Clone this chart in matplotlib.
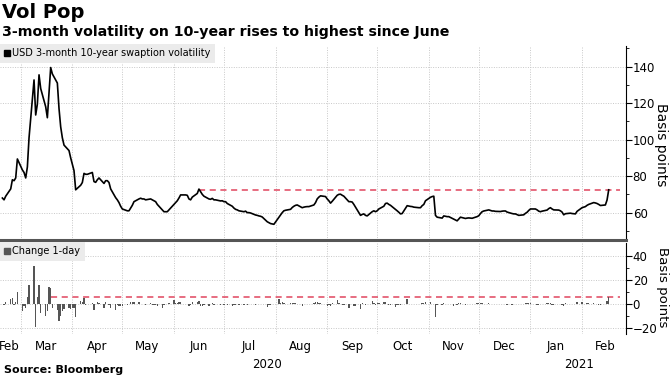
import numpy as np
import pandas as pd
import matplotlib
matplotlib.use("Agg")
import matplotlib.pyplot as plt
import matplotlib.dates as mdates
from matplotlib.patches import Patch

# ---- data (business days) ----
dates = pd.bdate_range("2020-02-19", "2021-02-17")

vol = [
    68, 67, 69,                          # Feb 19
    73, 78, 77.5, 79, 89.4,              # Feb 24
    83.4, 82, 79, 85, 101,               # Mar 2
    132.7, 113.5, 119.5, 135.5, 128,     # Mar 9
    118, 112, 126, 139.5, 136,           # Mar 16
    131, 117, 107, 101, 97,              # Mar 23
    94, 90, 86.5, 83, 72.5,              # Mar 30
    75, 76.5, 81.5, 81, 81,              # Apr 6
    82, 77, 76.6, 78, 79,                # Apr 13
    76, 77.5, 77.5, 76.5, 73,            # Apr 20
    68.2, 67, 65.5, 63.5, 62,            # Apr 27
    61, 61, 62.5, 64, 66,                # May 4
    67.5, 67.9, 67.5, 67.5, 67,          # May 11
    67.5, 67, 66.5, 66, 64.5,            # May 18
    61.5, 60.5, 60.5, 60.5, 61.5,        # May 25
    64.5, 65.5, 66.5, 68, 69.7,          # Jun 1
    69.7, 69.5, 67.5, 67, 68.5,          # Jun 8
    70.5, 72.9, 71.5, 70, 69,            # Jun 15
    67.5, 67.3, 67.8, 67, 67,            # Jun 22
    66.4, 66.5, 66, 66, 65,              # Jun 29
    63.5, 62.5, 61.8, 61.5, 61,          # Jul 6
    60.5, 60.8, 60, 60, 59.8,            # Jul 13
    58.7, 58.5, 58.2, 58, 57.6,          # Jul 20
    55, 54.5, 54, 53.8, 53.6,            # Jul 27
    57.5, 58.7, 60, 61, 61.3,            # Aug 3
    61.8, 62.8, 63.5, 64, 64.2,          # Aug 10
    62.7, 63, 63.2, 63.3, 63.3,          # Aug 17
    64.2, 65.5, 67.5, 68.5, 69.2,        # Aug 24
    68.8, 67.5, 66.5, 65.2, 66.2,        # Aug 31
    69.5, 70, 70.1, 69.5, 69,            # Sep 7
    66, 66, 65.8, 64.5, 63,              # Sep 14
    58.5, 59, 59.3, 58.5, 58.2,          # Sep 21
    60.5, 61, 60.5, 61, 62,              # Sep 28
    63.5, 65, 65.2, 64.5, 64,            # Oct 5
    61.8, 61, 60.2, 59.3, 59.5,          # Oct 12
    63.8, 63.6, 63.4, 63.3, 63,          # Oct 19
    62.7, 62.7, 63.8, 64.5, 66.5,        # Oct 26
    68.4, 68.8, 69, 58.5, 57.5,          # Nov 2
    57, 58.2, 58, 57.8, 57.8,            # Nov 9
    56.4, 56, 55.5, 56.5, 57.5,          # Nov 16
    56.8, 57, 57.1, 57, 56.9,            # Nov 23
    57.8, 58.3, 59.5, 60.5, 60.9,        # Nov 30
    61.5, 61.2, 60.9, 60.9, 60.7,        # Dec 7
    60.6, 60.8, 60.9, 60.9, 60.3,        # Dec 14
    59.5, 59.3, 59.3, 58.9, 58.5,        # Dec 21
    58.8, 59.6, 60.2, 61.2, 62,          # Dec 28
    62, 61.5, 60.8, 60.5, 60.8,          # Jan 4
    61.4, 62.2, 62.7, 62, 61.5,          # Jan 11
    61.4, 61, 60.3, 58.8, 59.4,          # Jan 18
    59.7, 59.5, 59.4, 59.3, 60.7,        # Jan 25
    62.7, 63, 63.3, 64, 64.5,            # Feb 1
    65.5, 65.3, 65, 64.5, 63.9,          # Feb 8
    64.2, 66.9, 72.5,                    # Feb 15
]

month_labels = ["Feb", "Mar", "Apr", "May", "Jun", "Jul", "Aug",
                "Sep", "Oct", "Nov", "Dec", "Jan", "Feb"]
label_dates = ["2020-02-23", "2020-03-16", "2020-04-16", "2020-05-16",
               "2020-06-16", "2020-07-16", "2020-08-16", "2020-09-16",
               "2020-10-16", "2020-11-16", "2020-12-16", "2021-01-16",
               "2021-02-15"]
year_labels = ["2020", "2021"]
year_dates = ["2020-07-27", "2021-01-30"]

s = pd.Series(vol, index=dates)
chg = s.diff()

# dashed reference levels: latest value, back to last time it was higher
last_lvl = s.iloc[-1]
lvl_start = s.iloc[:-1][s.iloc[:-1] >= last_lvl].index[-1]
last_chg = chg.iloc[-1]
chg_start = chg.iloc[:-1][chg.iloc[:-1] >= last_chg].index[-1]

# ---- figure ----
plt.rcParams["font.family"] = ["DejaVu Sans"]
fig = plt.figure(figsize=(6.7, 3.77), dpi=100)
W, H = 670, 377
ax1 = fig.add_axes([0, 1 - 240 / H, 625.7 / W, (240 - 46) / H])
ax2 = fig.add_axes([0, 1 - 334 / H, 625.7 / W, (334 - 243) / H], sharex=ax1)

red = "#e0455e"
grid_kw = dict(color="#c8c8c8", linestyle=(0, (1, 1.5)), linewidth=0.7)
xmin = mdates.date2num(pd.Timestamp("2020-03-01")) - 12.43
xmax = mdates.date2num(pd.Timestamp("2021-02-01")) + 26.2
end_dash = pd.Timestamp("2021-02-24")

# top panel
ax1.plot(s.index, s.values, color="black", linewidth=1.2, zorder=3)
ax1.hlines(last_lvl, lvl_start, end_dash, colors=red, linestyles=(0, (4, 3)),
           linewidth=1.1, zorder=2)
ax1.set_ylim(45, 151.3)
ax1.set_yticks([60, 80, 100, 120, 140])
ax1.set_yticks(np.arange(50, 151, 10), minor=True)

# bottom panel
ax2.bar(chg.index, chg.values, width=0.8, color="#555555", zorder=3)
ax2.hlines(last_chg, chg_start, end_dash, colors=red, linestyles=(0, (4, 3)),
           linewidth=1.1, zorder=2)
ax2.set_ylim(-25, 50.8)
ax2.set_yticks([-20, 0, 20, 40])
ax2.set_yticks([-10, 10, 30], minor=True)

month_starts = pd.date_range("2020-03-01", "2021-02-01", freq="MS")
for ax in (ax1, ax2):
    ax.set_xlim(xmin, xmax)
    ax.yaxis.tick_right()
    for sp in ("left", "top", "bottom"):
        ax.spines[sp].set_visible(False)
    ax.spines["right"].set_color("black")
    ax.spines["right"].set_linewidth(0.8)
    ax.tick_params(axis="y", which="major", length=4, width=0.8, pad=1,
                   labelsize=8.5, colors="black")
    ax.tick_params(axis="y", which="minor", length=2.5, width=0.6)
    ax.grid(axis="y", which="major", **grid_kw)
    for d in month_starts:
        ax.axvline(d, zorder=0, **grid_kw)
    ax.set_facecolor("white")

# right-hand axis titles
fig.text(661 / W, 1 - 145 / H, "Basis points", rotation=270, fontsize=10,
         ha="center", va="center")
fig.text(663 / W, 1 - 287 / H, "Basis points", rotation=270, fontsize=9.6,
         ha="center", va="center")

ax1.spines["bottom"].set_visible(True)
ax1.spines["bottom"].set_color("#555555")
ax1.spines["bottom"].set_linewidth(2.2)
ax1.tick_params(axis="x", which="both", bottom=False, labelbottom=False)

ax2.set_xticks([mdates.date2num(pd.Timestamp(d)) for d in label_dates])
ax2.set_xticklabels(month_labels, fontsize=8.5)
ax2.tick_params(axis="x", length=0, pad=4)
for lab, d in zip(year_labels, year_dates):
    ax2.text(pd.Timestamp(d), -0.34, lab, transform=ax2.get_xaxis_transform(),
             ha="center", va="center", fontsize=8.5)

# legends
leg_kw = dict(loc="upper left", bbox_to_anchor=(0, 1.01), borderaxespad=0,
              handlelength=0.6, handleheight=0.6, handletextpad=0.2,
              fontsize=7, frameon=True, fancybox=False, borderpad=0.45)
l1 = ax1.legend(handles=[Patch(color="black",
                               label="USD 3-month 10-year swaption volatility")],
                **leg_kw)
l2 = ax2.legend(handles=[Patch(color="#555555", label="Change 1-day")], **leg_kw)
for lg in (l1, l2):
    lg.get_frame().set_facecolor("#ebebeb")
    lg.get_frame().set_edgecolor("none")
    lg.get_frame().set_alpha(1)

# titles
fig.text(2 / W, 1 - 13 / H, "Vol Pop", fontsize=14, fontweight="bold",
         va="center", ha="left")
fig.text(2 / W, 1 - 32 / H,
         "3-month volatility on 10-year rises to highest since June",
         fontsize=10.2, fontweight="bold", va="center", ha="left")
fig.text(4 / W, 1 - 370 / H, "Source: Bloomberg", fontsize=8,
         fontweight="bold", va="center", ha="left")

fig.savefig("out.png", dpi=100)
